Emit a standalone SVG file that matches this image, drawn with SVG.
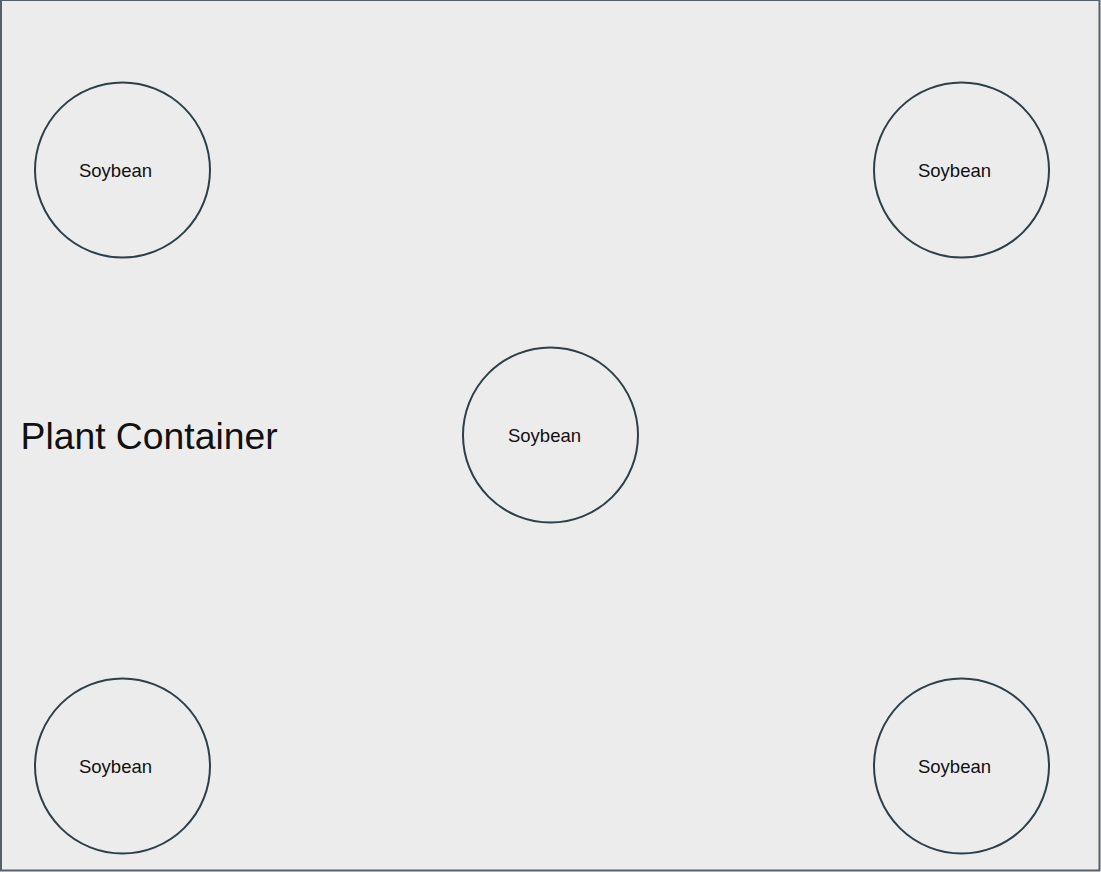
<svg xmlns="http://www.w3.org/2000/svg" width="1101" height="872" viewBox="0 0 1101 872">
  <style>
    .container { fill: #ececec; stroke: #55616a; stroke-width: 2; }
    .plant { fill: none; stroke: #2e3f48; stroke-width: 2; }
    .plant-label { font-family: "Liberation Sans", Arial, sans-serif; font-size: 18.5px; fill: #111; text-anchor: middle; }
    .title { font-family: "Liberation Sans", Arial, sans-serif; font-size: 37.3px; fill: #111; }
  </style>

  <!-- outer container -->
  <g id="plant-container">
    <rect class="container" x="1" y="0" width="1098.5" height="870.5"/>
    <text class="title" x="20.5" y="448.5">Plant Container</text>
  </g>

  <!-- soybean plants -->
  <g id="soybean-top-left">
    <circle class="plant" cx="122.5" cy="170" r="87.5"/>
    <text class="plant-label" x="115.5" y="177">Soybean</text>
  </g>
  <g id="soybean-top-right">
    <circle class="plant" cx="961.5" cy="170" r="87.5"/>
    <text class="plant-label" x="954.5" y="177">Soybean</text>
  </g>
  <g id="soybean-center">
    <circle class="plant" cx="550.5" cy="435" r="87.5"/>
    <text class="plant-label" x="544.5" y="442">Soybean</text>
  </g>
  <g id="soybean-bottom-left">
    <circle class="plant" cx="122.5" cy="766" r="87.5"/>
    <text class="plant-label" x="115.5" y="773">Soybean</text>
  </g>
  <g id="soybean-bottom-right">
    <circle class="plant" cx="961.5" cy="766" r="87.5"/>
    <text class="plant-label" x="954.5" y="773">Soybean</text>
  </g>

  <g id="connectors"/>
</svg>
